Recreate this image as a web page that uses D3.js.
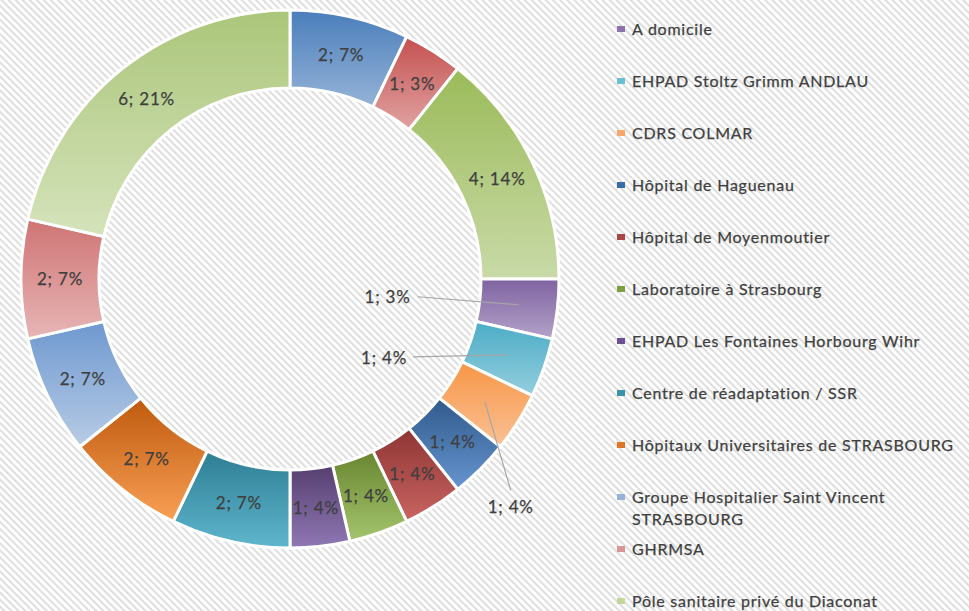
<!DOCTYPE html>
<html><head><meta charset="utf-8">
<script src="https://cdn.jsdelivr.net/npm/d3@7"></script>
<style>
html,body{margin:0;padding:0;background:#fff;}
svg{display:block;}
text{font-family:Lato,"Open Sans",sans-serif;fill:#3f3f3f;stroke:#3f3f3f;stroke-width:0.25px;}
</style></head>
<body>
<svg id="chart" width="969" height="611"></svg>
<script>
// ---- data (clockwise from 12 o'clock) ----
const categories = [
  null, null, null, // legend entries above the visible frame
  "A domicile",
  "EHPAD Stoltz Grimm ANDLAU",
  "CDRS COLMAR",
  "Hôpital de Haguenau",
  "Hôpital de Moyenmoutier",
  "Laboratoire à Strasbourg",
  "EHPAD Les Fontaines Horbourg Wihr",
  "Centre de réadaptation / SSR",
  "Hôpitaux Universitaires de STRASBOURG",
  "Groupe Hospitalier Saint Vincent STRASBOURG",
  "GHRMSA",
  "Pôle sanitaire privé du Diaconat"
];
const values = [2, 1, 4, 1, 1, 1, 1, 1, 1, 1, 2, 2, 2, 2, 6];
const pctLabels = ["7%", "3%", "14%", "3%", "4%", "4%", "4%", "4%", "4%", "4%", "7%", "7%", "7%", "7%", "21%"];

// ---- styles ----
const topColors    = ["#4A7EBB","#C4504F","#9BBB59","#7F63A1","#4BACC6","#F79646","#2F5A8C","#8E3533","#68862F","#553F6F","#2E7E94","#BE5A0E","#6E98CF","#CF7474","#ABC67A"];
const bottomColors = ["#95B3D7","#E0A3A2","#C9DAA8","#B3A2C8","#94CFDE","#FAC195","#6795D0","#C96462","#A5C46E","#8F78B4","#5EB6CD","#F9A055","#B8CCE6","#E7B6B5","#D5E3BB"];
const legendColors = ["#4F81BD","#C0504D","#9BBB59","#8D73AE","#6CC0D6","#F9A86C","#3C6CA8","#A94543","#7E9E42","#6A5090","#3A93AC","#E07525","#95B3D7","#DA9695","#C3D69B"];

const width = 969, height = 611;
const cx = 290, cy = 279, rOuter = 269, rInner = 191, rLabel = 230;

const svg = d3.select("#chart");
const defs = svg.append("defs");

// striped background
const pat = defs.append("pattern")
  .attr("id", "stripes").attr("patternUnits", "userSpaceOnUse")
  .attr("width", 5).attr("height", 5)
  .attr("patternTransform", "rotate(-45)");
pat.append("rect").attr("width", 5).attr("height", 5).attr("fill", "#ffffff");
pat.append("rect").attr("width", 2).attr("height", 5).attr("fill", "#dedede");
svg.append("rect").attr("width", width).attr("height", height).attr("fill", "url(#stripes)");

// gradients
values.forEach((v, i) => {
  const g = defs.append("linearGradient").attr("id", "grad" + i)
    .attr("x1", 0).attr("y1", 0).attr("x2", 0).attr("y2", 1);
  g.append("stop").attr("offset", "0%").attr("stop-color", topColors[i]);
  g.append("stop").attr("offset", "100%").attr("stop-color", bottomColors[i]);
});

const pie = d3.pie().sort(null).value(d => d.value).startAngle(0).endAngle(2 * Math.PI);
const rows = values.map((v, i) => ({ i, value: v, pct: pctLabels[i], name: categories[i] }));
const arcs = pie(rows);
const arc = d3.arc().innerRadius(rInner).outerRadius(rOuter);
const labelArc = d3.arc().innerRadius(rLabel).outerRadius(rLabel);

const g = svg.append("g").attr("transform", `translate(${cx},${cy})`);
g.selectAll("path.slice").data(arcs).join("path")
  .attr("class", "slice")
  .attr("d", arc)
  .attr("fill", d => `url(#grad${d.data.i})`)
  .attr("stroke", "#ffffff").attr("stroke-width", 3).attr("stroke-linejoin", "round");

// labels: some slices use an outside label with a leader line
const outside = { 3: { dx: -131, dy: -8, lx: -101, ly: -8, anchor: "middle" },
                  4: { dx: -123, dy: 3,  lx: -94,  ly: 2,  anchor: "middle" },
                  5: { dx: 26,   dy: 106, lx: 26,  ly: 89, anchor: "middle" } };

arcs.forEach(d => {
  const [x, y] = labelArc.centroid(d);
  const txt = d.data.value + "; " + d.data.pct;
  const o = outside[d.data.i];
  if (o) {
    g.append("line")
      .attr("x1", x + o.lx).attr("y1", y + o.ly)
      .attr("x2", x).attr("y2", y)
      .attr("stroke", "#a6a6a6").attr("stroke-width", 1.2);
  }
  g.append("text")
    .attr("x", o ? x + o.dx : x).attr("y", o ? y + o.dy : y)
    .attr("dy", "0.35em").attr("text-anchor", "middle")
    .attr("font-size", 17).attr("letter-spacing", 0.8)
    .text(txt);
});

// legend (first three entries fall outside the visible frame)
const legend = svg.append("g").attr("class", "legend");
const legendItems = rows.filter(r => r.name);
const lx = 617, ly0 = 29, lstep = 52;
legendItems.forEach((r, k) => {
  const y = ly0 + k * lstep;
  legend.append("rect").attr("x", lx).attr("y", y - 3).attr("width", 8).attr("height", 6)
    .attr("fill", legendColors[r.i]);
  const t = legend.append("text").attr("x", lx + 15).attr("y", y).attr("dy", "0.35em")
    .attr("font-size", 16).attr("letter-spacing", 0.75);
  if (r.name === "Groupe Hospitalier Saint Vincent STRASBOURG") {
    t.append("tspan").attr("x", lx + 15).text("Groupe Hospitalier Saint Vincent");
    t.append("tspan").attr("x", lx + 15).attr("dy", 22).text("STRASBOURG");
  } else {
    t.text(r.name);
  }
});
</script>
</body></html>
